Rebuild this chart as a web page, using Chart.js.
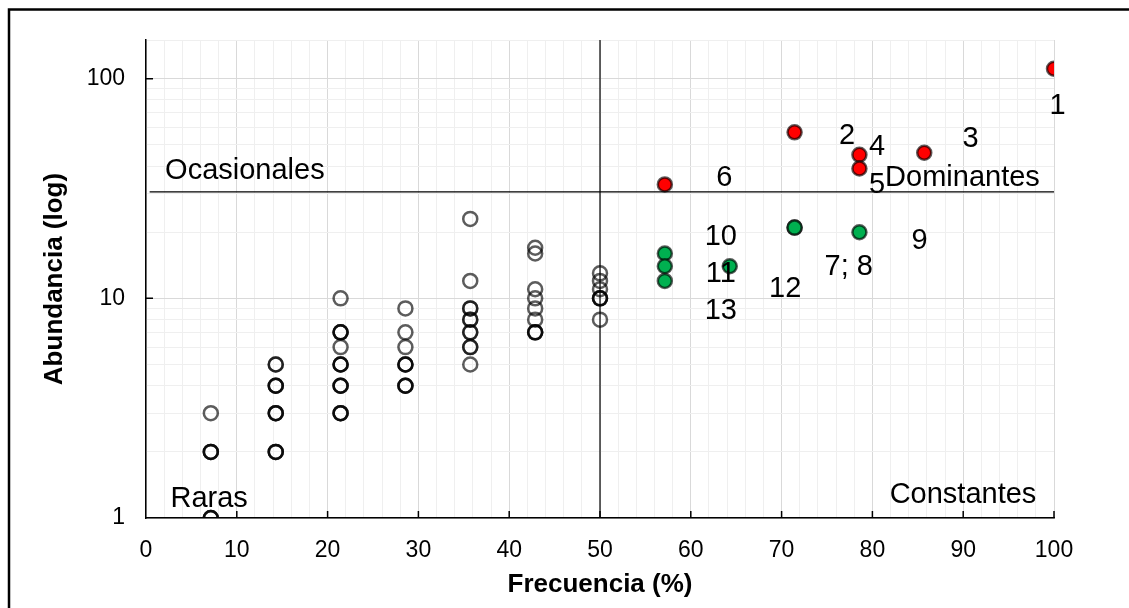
<!DOCTYPE html>
<html lang="es">
<head>
<meta charset="utf-8">
<title>Frecuencia y abundancia</title>
<script src="https://cdn.jsdelivr.net/npm/chart.js@4/dist/chart.umd.min.js"></script>
<style>
  html, body { margin: 0; padding: 0; background: #fff; }
  #wrap { width: 1129px; height: 608px; }
</style>
</head>
<body>
<div id="wrap"><canvas id="grafico" width="1129" height="608"></canvas></div>
<script>
// Frecuencia (%) de las columnas de especies no numeradas
const frecResto = [7.14, 14.29, 21.43, 28.57, 35.71, 42.86, 50];
// Abundancia de cada especie en esa columna (repetidas si coinciden)
const abundResto = [
    [1, 1, 1, 2, 2, 2, 3],
    [2, 2, 2, 3, 3, 3, 4, 4, 4, 5, 5],
    [3, 3, 3, 4, 4, 4, 5, 5, 5, 6, 7, 7, 7, 10],
    [4, 4, 4, 5, 5, 5, 6, 7, 9],
    [5, 6, 6, 7, 7, 8, 8, 9, 9, 12, 23],
    [7, 7, 7, 8, 9, 10, 11, 16, 17],
    [8, 10, 10, 10, 11, 12, 13]
];

// Especies constantes (verde)
const frecConstantes = [57.14, 57.14, 57.14, 64.29, 71.43, 71.43, 78.57];
const abundConstantes = [16, 14, 12, 14, 21, 21, 20];

// Especies dominantes (rojo)
const frecDominantes = [100, 71.43, 85.71, 78.57, 78.57, 57.14];
const abundDominantes = [111, 57, 46, 45, 39, 33];

// Límites entre cuadrantes
const limiteFrec = 50;
const limiteAbund = 30.5;

// Etiquetas de las especies numeradas (posición en unidades de los ejes)
const etiquetas = ['1', '2', '3', '4', '5', '6', '7; 8', '9', '10', '11', '12', '13'];
const etiquetaX = [100.4, 77.2, 90.8, 80.5, 80.5, 63.7, 77.4, 85.2, 63.3, 63.3, 70.4, 63.3];
const etiquetaY = [77.2, 56.3, 54.6, 50.1, 33.5, 36.4, 14.2, 18.8, 19.5, 13.25, 11.3, 9.02];

// Nombres de los cuadrantes
const cuadrantes = ['Ocasionales', 'Dominantes', 'Raras', 'Constantes'];
const cuadranteX = [2.1, 81.4, 2.7, 81.9];
const cuadranteY = [38.8, 36.4, 1.25, 1.31];

// Ticks del eje Y con texto
const ticksY = [1, 10, 100];
const yMax = 150;

const FUENTE = "'Liberation Sans', Arial, sans-serif";
const BORDE_PUNTO = 'rgba(0,0,0,0.64)';
const TAM_TEXTO = 29;

const puntosResto = frecResto.flatMap((f, i) => abundResto[i].map(a => ({ x: f, y: a })));
const puntosConstantes = frecConstantes.map((f, i) => ({ x: f, y: abundConstantes[i] }));
const puntosDominantes = frecDominantes.map((f, i) => ({ x: f, y: abundDominantes[i] }));

// Marco exterior, marcas de ticks hacia dentro y textos sobre el gráfico
const decoracion = {
    id: 'decoracion',
    beforeDraw(chart) {
        const ctx = chart.ctx;
        ctx.save();
        ctx.fillStyle = '#fff';
        ctx.fillRect(0, 0, chart.width, chart.height);
        ctx.strokeStyle = '#000';
        ctx.lineWidth = 2.5;
        ctx.strokeRect(9, 9.5, chart.width + 50, chart.height + 50);
        ctx.restore();
    },
    afterDatasetsDraw(chart) {
        const ctx = chart.ctx;
        const xs = chart.scales.x, ys = chart.scales.y;
        const area = chart.chartArea;
        ctx.save();
        ctx.strokeStyle = '#000';
        ctx.lineWidth = 1.5;
        ctx.beginPath();
        for (let v = 10; v <= 100; v += 10) {
            const px = xs.getPixelForValue(v);
            ctx.moveTo(px, area.bottom);
            ctx.lineTo(px, area.bottom - 7);
        }
        ticksY.slice(1).forEach(v => {
            const py = ys.getPixelForValue(v);
            ctx.moveTo(area.left, py);
            ctx.lineTo(area.left + 7, py);
        });
        ctx.stroke();

        // texto centrado sobre la altura de las mayúsculas
        const bajar = TAM_TEXTO * 0.36;
        ctx.fillStyle = '#000';
        ctx.font = TAM_TEXTO + 'px ' + FUENTE;
        ctx.textBaseline = 'alphabetic';
        ctx.textAlign = 'left';
        cuadrantes.forEach((t, i) => {
            ctx.fillText(t, xs.getPixelForValue(cuadranteX[i]), ys.getPixelForValue(cuadranteY[i]) + bajar);
        });
        ctx.textAlign = 'center';
        etiquetas.forEach((t, i) => {
            ctx.fillText(t, xs.getPixelForValue(etiquetaX[i]), ys.getPixelForValue(etiquetaY[i]) + bajar);
        });
        ctx.restore();
    }
};

const colorGrid = (ctx, mayor) => {
    const v = ctx.tick ? ctx.tick.value : 0;
    return mayor(v) ? '#d9d9d9' : '#efefef';
};

new Chart(document.getElementById('grafico'), {
    type: 'scatter',
    data: {
        datasets: [
            {
                type: 'line',
                data: [{ x: limiteFrec, y: 1 }, { x: limiteFrec, y: yMax }],
                borderColor: '#000',
                borderWidth: 1.2,
                pointRadius: 0,
                order: 0
            },
            {
                type: 'line',
                data: [{ x: 0.4, y: limiteAbund }, { x: 100, y: limiteAbund }],
                borderColor: '#000',
                borderWidth: 1.2,
                pointRadius: 0,
                order: 0
            },
            {
                data: puntosDominantes,
                backgroundColor: '#ff0000',
                borderColor: BORDE_PUNTO,
                borderWidth: 2.5,
                pointRadius: 7,
                order: 1
            },
            {
                data: puntosConstantes,
                backgroundColor: '#00b050',
                borderColor: BORDE_PUNTO,
                borderWidth: 2.5,
                pointRadius: 7,
                order: 2
            },
            {
                data: puntosResto,
                backgroundColor: 'rgba(0,0,0,0)',
                borderColor: BORDE_PUNTO,
                borderWidth: 2.5,
                pointRadius: 7,
                order: 3
            }
        ]
    },
    options: {
        responsive: false,
        animation: false,
        layout: { padding: { left: 0, top: 40, right: 75, bottom: 0 } },
        plugins: {
            legend: { display: false },
            tooltip: { enabled: false }
        },
        scales: {
            x: {
                type: 'linear',
                min: 0,
                max: 100,
                afterFit: (s) => { s.height = 90; },
                border: { display: true, color: '#000', width: 1.5 },
                grid: {
                    drawTicks: false,
                    lineWidth: 1,
                    color: (ctx) => colorGrid(ctx, v => v % 10 === 0)
                },
                ticks: {
                    stepSize: 2,
                    autoSkip: false,
                    maxRotation: 0,
                    padding: 19,
                    color: '#000',
                    font: { family: FUENTE, size: 23 },
                    callback: (v) => (v % 10 === 0 ? String(v) : '')
                },
                title: {
                    display: true,
                    text: 'Frecuencia (%)',
                    color: '#000',
                    font: { family: FUENTE, size: 26, weight: 'bold' },
                    padding: { top: 0, bottom: 8 }
                }
            },
            y: {
                type: 'logarithmic',
                min: 1,
                max: yMax,
                afterFit: (s) => { s.width = 146; },
                afterBuildTicks: (s) => {
                    const t = [];
                    for (let d = 1; d < 100; d *= 10) {
                        for (let k = 1; k < 10; k++) t.push({ value: k * d });
                    }
                    t.push({ value: 100 }, { value: yMax });
                    s.ticks = t;
                },
                border: { display: true, color: '#000', width: 1.5 },
                grid: {
                    drawTicks: false,
                    lineWidth: 1,
                    color: (ctx) => colorGrid(ctx, v => ticksY.includes(v))
                },
                ticks: {
                    autoSkip: false,
                    padding: 21,
                    color: '#000',
                    font: { family: FUENTE, size: 23 },
                    callback: (v) => (ticksY.includes(v) ? String(v) : '')
                },
                title: {
                    display: true,
                    text: 'Abundancia (log)',
                    color: '#000',
                    font: { family: FUENTE, size: 26, weight: 'bold' },
                    padding: { top: 39, bottom: 0 }
                }
            }
        }
    },
    plugins: [decoracion]
});
</script>
</body>
</html>
